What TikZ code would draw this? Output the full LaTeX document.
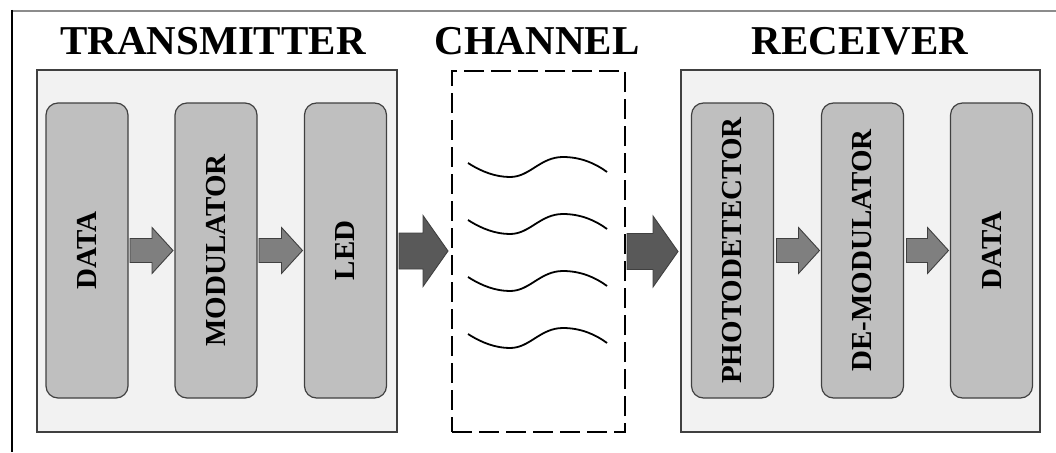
\documentclass[tikz,border=0pt]{standalone}
\usepackage{fontspec}
\setmainfont{Liberation Serif}
\usetikzlibrary{calc}
\definecolor{outerfill}{HTML}{F2F2F2}
\definecolor{innerfill}{HTML}{BFBFBF}
\definecolor{edgegray}{HTML}{404040}
\definecolor{smallfill}{HTML}{7F7F7F}
\definecolor{bigfill}{HTML}{595959}
\definecolor{framegray}{HTML}{8C8C8C}
\newcommand\blockarrow[8]{\draw[#8] let \p1=($(#1.east)+(#3,0)$), \p2=($(#2.west)-(#4,0)$) in
  (\x1,\y1+#5) -- (\x2-#7,\y1+#5) -- (\x2-#7,\y1+#6) -- (\x2,\y1) -- (\x2-#7,\y1-#6) -- (\x2-#7,\y1-#5) -- (\x1,\y1-#5) -- cycle;}
\begin{document}
\begin{tikzpicture}[x=1pt,y=-1pt,
  outerbox/.style={draw=edgegray, fill=outerfill, line width=1.4pt, outer sep=0pt, inner sep=0pt},
  innerbox/.style={draw=edgegray, fill=innerfill, line width=1.2pt, rounded corners=12pt, outer sep=0pt, inner sep=0pt,
    minimum width=82pt, minimum height=295pt, font=\fontsize{29}{29}\selectfont\bfseries},
  chanbox/.style={draw=black, line width=2.9pt, dash pattern=on 20pt off 7pt, outer sep=0pt, inner sep=0pt},
  title/.style={inner sep=0pt, font=\fontsize{41}{41}\selectfont\bfseries},
  smallarrow/.style={draw=edgegray, fill=smallfill, line width=0.9pt, line join=miter},
  bigarrow/.style={draw=edgegray, fill=bigfill, line width=0.9pt, line join=miter},
  wave/.style={draw=black, line width=1.8pt}]
\useasboundingbox (0,0) rectangle (1056,452);
% frame
\draw[framegray, line width=2pt] (12,11) -- (1056,11);
\draw[black, line width=1.3pt] (12,10) -- (12,452);
% titles
\node[title] (ttx) at (213,41) {TRANSMITTER};
\node[title] (tch) at (537,41) {CHANNEL};
\node[title] (trx) at (860,41) {RECEIVER};
% outer boxes
\node[outerbox, minimum width=360pt, minimum height=362pt] (tx) at (217,251) {};
\node[outerbox, minimum width=359pt, minimum height=362pt] (rx) at (860.5,251) {};
\node[chanbox, minimum width=173pt, minimum height=361pt] (ch) at (538.5,251.5) {};
% inner boxes
\node[innerbox] (data1) at (87,250.5) {\rotatebox{90}{DATA}};
\node[innerbox] (mod) at (216,250.5) {\rotatebox{90}{MODULATOR}};
\node[innerbox] (led) at (345.5,250.5) {\rotatebox{90}{LED}};
\node[innerbox] (pd) at (732.5,250.5) {\rotatebox{90}{PHOTODETECTOR}};
\node[innerbox] (demod) at (862.5,250.5) {\rotatebox{90}{DE-MODULATOR}};
\node[innerbox] (data2) at (991.5,250.5) {\rotatebox{90}{DATA}};
% small arrows
\blockarrow{data1}{mod}{2}{2}{12pt}{23pt}{21pt}{smallarrow}
\blockarrow{mod}{led}{2}{2}{12pt}{23pt}{21pt}{smallarrow}
\blockarrow{pd}{demod}{3}{2}{12pt}{23pt}{21pt}{smallarrow}
\blockarrow{demod}{data2}{3}{2}{12pt}{23pt}{21pt}{smallarrow}
% big arrows
\blockarrow{tx}{ch}{2}{4}{18pt}{35.5pt}{25pt}{bigarrow}
\blockarrow{ch}{rx}{2}{3}{18pt}{35.5pt}{25pt}{bigarrow}
% waves
\foreach \d in {0,57,114,171} {
  \draw[wave] (468,163+\d) .. controls (482,172+\d) and (496,177+\d) .. (510,177+\d)
    .. controls (530,177+\d) and (540,157+\d) .. (563,157+\d)
    .. controls (580,157+\d) and (595,163+\d) .. (607,172+\d);
}
\end{tikzpicture}
\end{document}
